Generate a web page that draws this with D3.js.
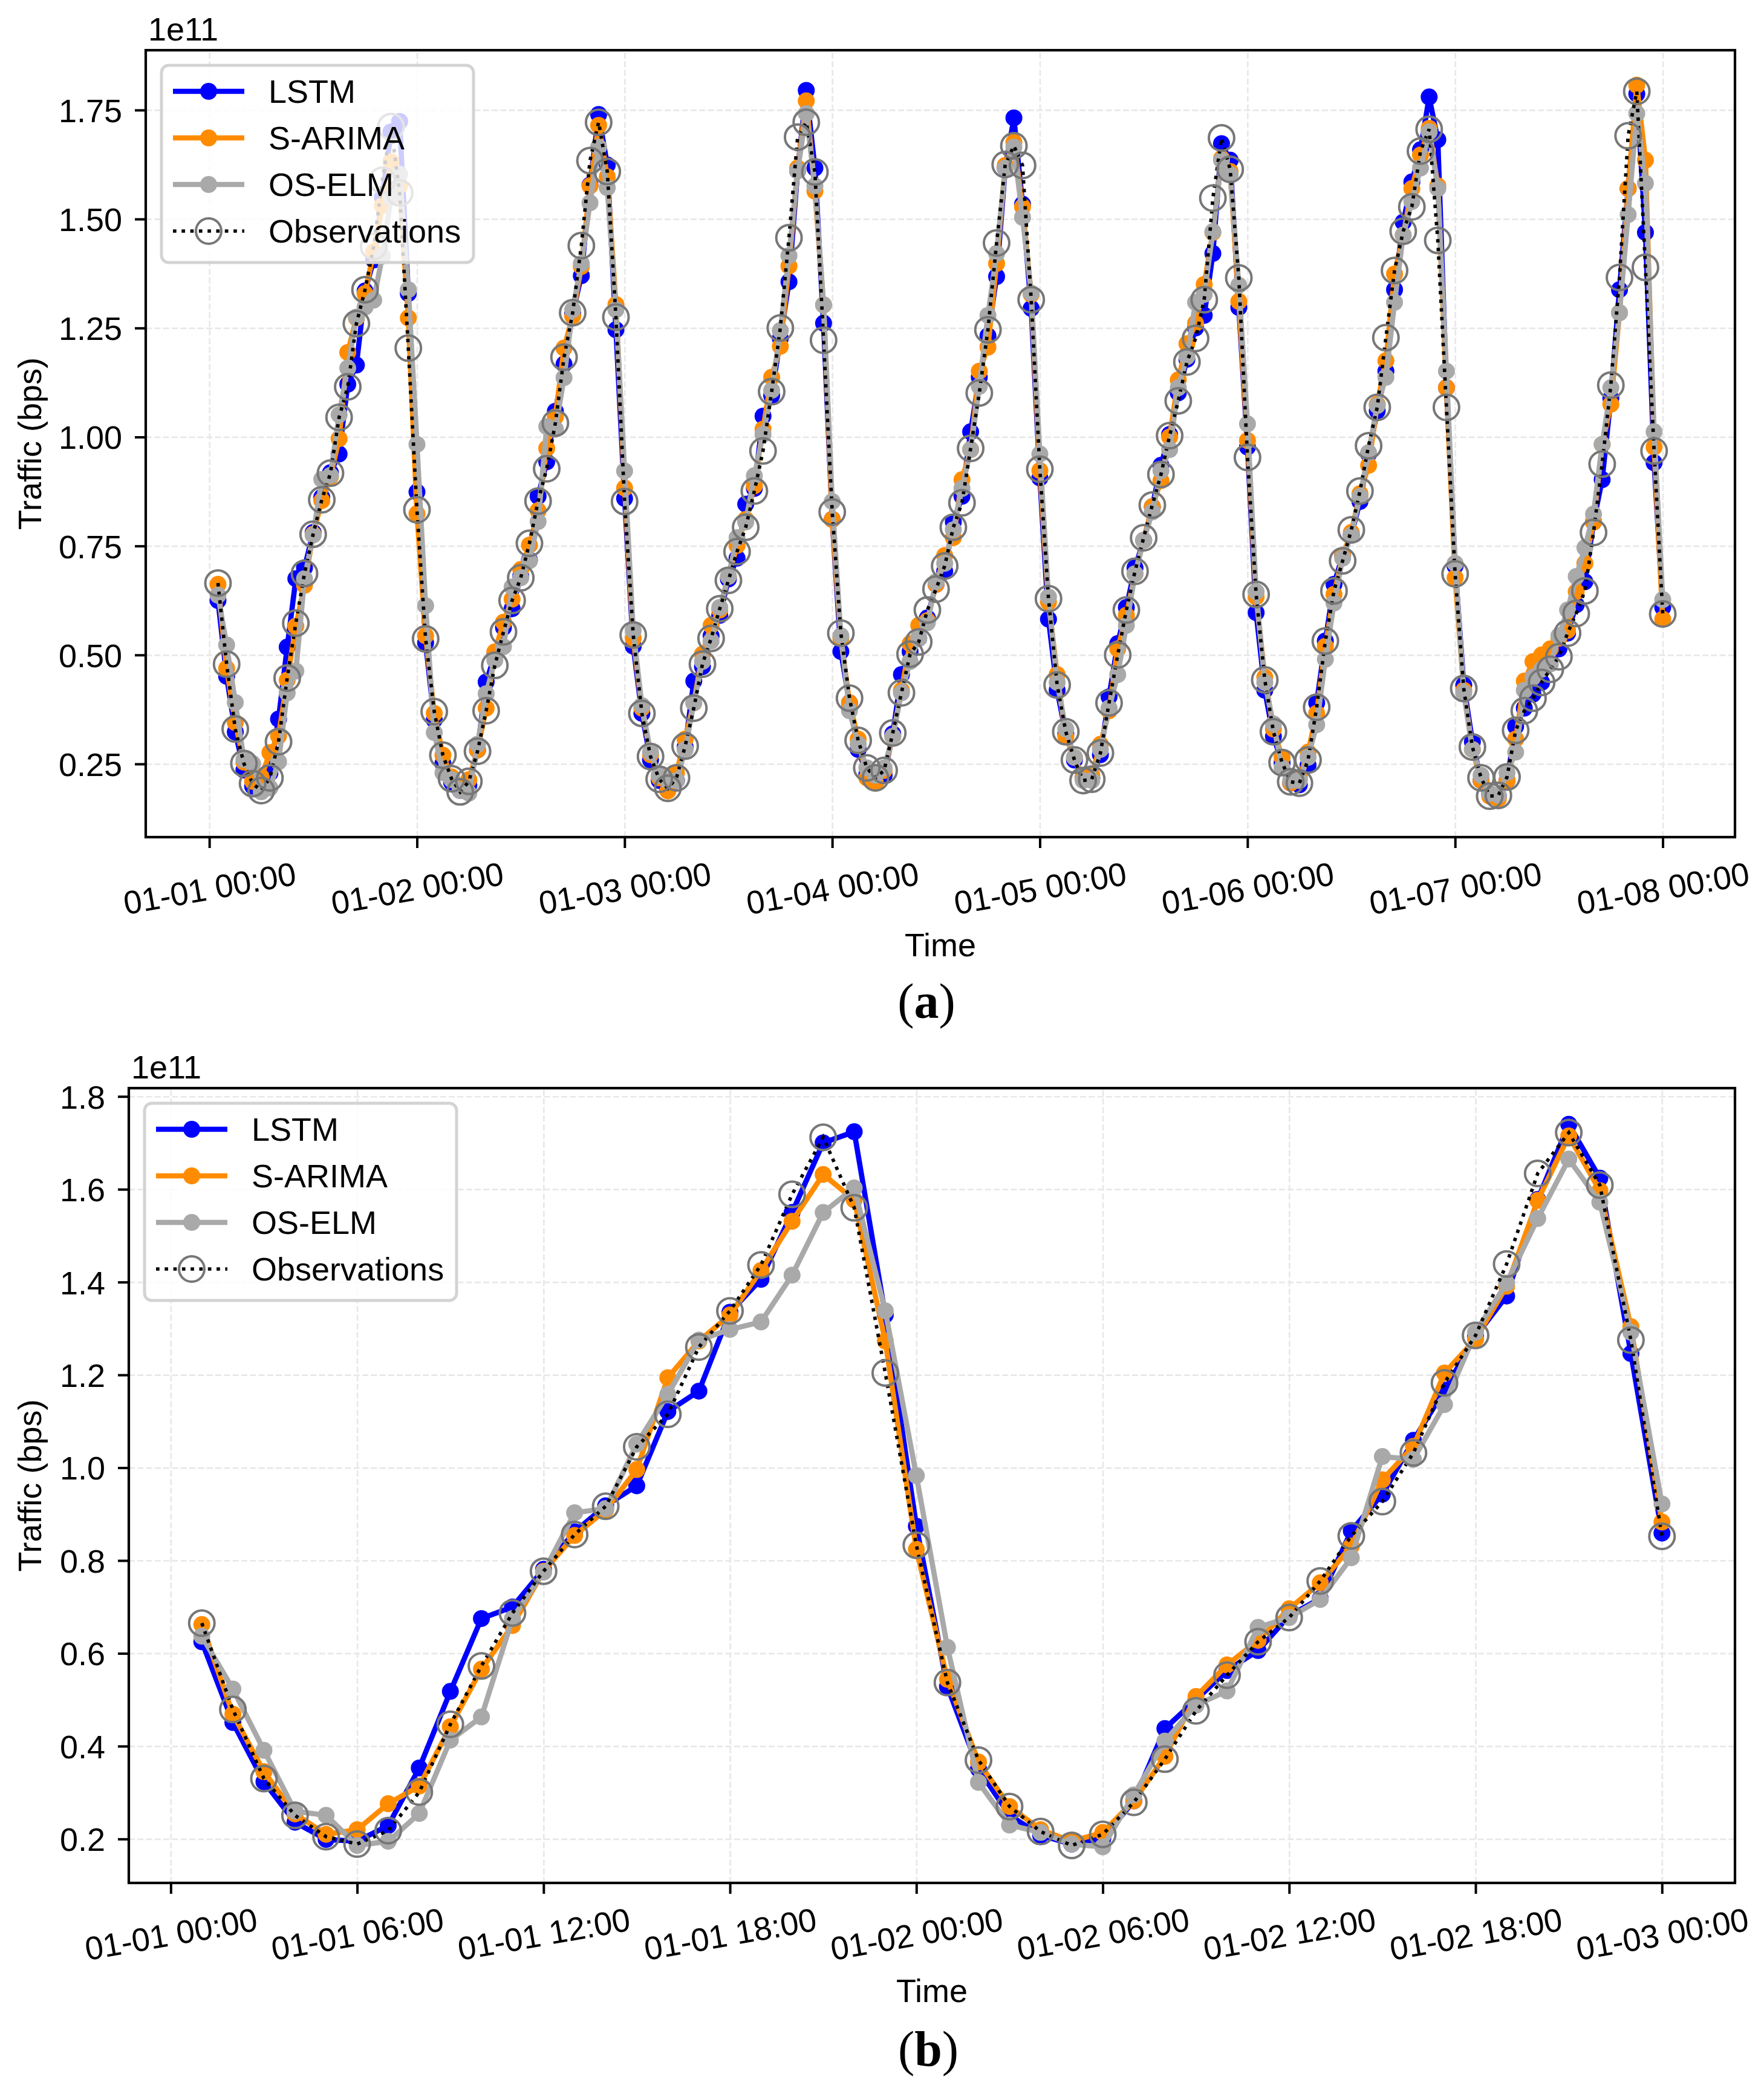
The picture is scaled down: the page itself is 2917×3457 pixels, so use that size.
<!DOCTYPE html>
<html><head><meta charset="utf-8">
<script src="https://cdn.jsdelivr.net/npm/d3@7"></script>
<style>body{margin:0;background:#fff}svg{display:block}</style>
</head><body><svg id="chart"></svg>
<script>
// ---------------- DATA (units of 1e11 bps), hourly from 01-01 01:00 to 01-08 00:00 ----------------
const hoursOfData = d3.range(1, 169);
const observations = [
0.665,0.479,0.330,0.251,0.205,0.189,0.218,0.301,0.447,0.573,0.687,0.777,0.856,0.917,1.045,1.115,1.260,1.338,1.437,1.589,1.712,1.560,1.204,0.833,
0.537,0.370,0.270,0.216,0.186,0.210,0.279,0.372,0.476,0.553,0.625,0.677,0.756,0.853,0.927,1.032,1.183,1.285,1.439,1.634,1.722,1.609,1.275,0.852,
0.546,0.366,0.267,0.215,0.194,0.218,0.291,0.378,0.479,0.538,0.606,0.671,0.737,0.793,0.876,0.968,1.104,1.250,1.457,1.688,1.722,1.608,1.222,0.828,
0.550,0.401,0.304,0.241,0.218,0.235,0.321,0.413,0.502,0.530,0.603,0.651,0.704,0.793,0.849,0.974,1.101,1.246,1.445,1.625,1.668,1.623,1.315,0.926,
0.629,0.431,0.324,0.259,0.212,0.215,0.275,0.390,0.500,0.603,0.692,0.769,0.844,0.914,1.003,1.083,1.172,1.226,1.315,1.548,1.686,1.614,1.365,0.953,
0.639,0.443,0.324,0.253,0.209,0.206,0.259,0.380,0.532,0.647,0.716,0.787,0.876,0.980,1.068,1.228,1.382,1.472,1.528,1.656,1.706,1.451,1.068,0.686,
0.423,0.289,0.218,0.176,0.178,0.220,0.327,0.372,0.401,0.437,0.467,0.496,0.550,0.595,0.647,0.781,0.938,1.119,1.366,1.691,1.793,1.389,0.968,0.594];
const lstm = [
0.625,0.451,0.323,0.236,0.199,0.195,0.229,0.353,0.518,0.675,0.700,0.781,0.862,0.918,0.961,1.121,1.165,1.335,1.406,1.550,1.700,1.724,1.329,0.874,
0.528,0.351,0.251,0.208,0.189,0.201,0.282,0.438,0.500,0.563,0.606,0.681,0.718,0.864,0.943,1.059,1.167,1.283,1.370,1.578,1.740,1.624,1.246,0.859,
0.520,0.366,0.259,0.212,0.190,0.212,0.289,0.440,0.473,0.544,0.591,0.674,0.722,0.846,0.882,1.048,1.095,1.226,1.356,1.611,1.795,1.617,1.261,0.811,
0.508,0.390,0.283,0.226,0.212,0.224,0.319,0.455,0.508,0.538,0.585,0.662,0.692,0.805,0.864,1.012,1.137,1.232,1.368,1.617,1.732,1.534,1.295,0.906,
0.582,0.419,0.319,0.259,0.218,0.218,0.271,0.404,0.526,0.609,0.700,0.763,0.840,0.935,1.006,1.101,1.178,1.250,1.279,1.421,1.673,1.635,1.297,0.977,
0.597,0.419,0.313,0.253,0.206,0.202,0.247,0.390,0.532,0.662,0.728,0.775,0.852,0.961,1.060,1.151,1.338,1.493,1.585,1.659,1.780,1.682,1.113,0.704,
0.431,0.301,0.212,0.182,0.176,0.212,0.336,0.378,0.410,0.437,0.502,0.514,0.550,0.615,0.668,0.805,0.902,1.089,1.338,1.570,1.787,1.469,0.941,0.609];
const sarima = [
0.662,0.469,0.345,0.254,0.210,0.220,0.276,0.314,0.442,0.566,0.660,0.777,0.854,0.909,0.996,1.194,1.273,1.329,1.425,1.531,1.632,1.577,1.273,0.824,
0.544,0.366,0.270,0.220,0.195,0.214,0.282,0.378,0.507,0.575,0.628,0.696,0.752,0.831,0.974,1.046,1.204,1.277,1.391,1.576,1.715,1.597,1.304,0.883,
0.538,0.378,0.271,0.218,0.188,0.230,0.307,0.390,0.502,0.568,0.603,0.680,0.751,0.811,0.888,1.018,1.137,1.208,1.392,1.617,1.771,1.564,1.303,0.811,
0.538,0.390,0.307,0.218,0.206,0.235,0.313,0.419,0.526,0.568,0.579,0.662,0.728,0.769,0.902,0.971,1.151,1.206,1.398,1.623,1.676,1.528,1.327,0.923,
0.621,0.455,0.313,0.265,0.218,0.224,0.295,0.372,0.514,0.591,0.686,0.763,0.840,0.900,1.000,1.131,1.214,1.261,1.350,1.469,1.639,1.609,1.311,0.992,
0.633,0.449,0.330,0.265,0.206,0.218,0.277,0.366,0.520,0.639,0.728,0.781,0.870,0.935,1.075,1.175,1.374,1.463,1.570,1.647,1.708,1.576,1.113,0.677,
0.419,0.283,0.212,0.176,0.170,0.212,0.307,0.440,0.485,0.500,0.514,0.538,0.556,0.645,0.710,0.805,0.983,1.075,1.285,1.570,1.807,1.635,0.977,0.582];
const oselm = [
0.637,0.523,0.391,0.260,0.251,0.186,0.195,0.255,0.413,0.463,0.675,0.775,0.903,0.912,1.051,1.158,1.275,1.298,1.314,1.415,1.550,1.603,1.338,0.983,
0.613,0.322,0.230,0.214,0.189,0.183,0.295,0.411,0.488,0.519,0.656,0.677,0.716,0.806,1.024,1.018,1.136,1.292,1.398,1.537,1.665,1.572,1.292,0.922,
0.556,0.384,0.277,0.224,0.212,0.212,0.283,0.390,0.485,0.532,0.609,0.680,0.769,0.805,0.911,1.006,1.107,1.244,1.416,1.611,1.742,1.576,1.303,0.852,
0.544,0.372,0.295,0.241,0.224,0.241,0.313,0.413,0.485,0.538,0.574,0.668,0.710,0.787,0.882,0.971,1.116,1.279,1.421,1.617,1.665,1.504,1.330,0.961,
0.633,0.437,0.330,0.265,0.212,0.212,0.283,0.378,0.455,0.568,0.686,0.763,0.828,0.923,0.971,1.113,1.184,1.309,1.327,1.471,1.635,1.602,1.348,1.030,
0.645,0.437,0.342,0.241,0.212,0.212,0.265,0.340,0.490,0.619,0.722,0.775,0.864,0.964,1.072,1.137,1.309,1.463,1.540,1.617,1.700,1.570,1.151,0.710,
0.413,0.283,0.224,0.182,0.178,0.230,0.277,0.419,0.449,0.467,0.479,0.544,0.603,0.680,0.746,0.823,0.983,1.113,1.285,1.510,1.742,1.582,1.012,0.627];

const seriesNames = ["LSTM", "S-ARIMA", "OS-ELM", "Observations"];
const xTickLabelsA = ["01-01 00:00","01-02 00:00","01-03 00:00","01-04 00:00","01-05 00:00","01-06 00:00","01-07 00:00","01-08 00:00"];
const xTickLabelsB = ["01-01 00:00","01-01 06:00","01-01 12:00","01-01 18:00","01-02 00:00","01-02 06:00","01-02 12:00","01-02 18:00","01-03 00:00"];
const yTicksA = [0.25, 0.50, 0.75, 1.00, 1.25, 1.50, 1.75];
const yTicksB = [0.2, 0.4, 0.6, 0.8, 1.0, 1.2, 1.4, 1.6, 1.8];
const pointsInPanelB = 48;

// ---------------- STYLE ----------------
const W = 2917, H = 3457;
const FONT = "'Liberation Sans', Arial, Helvetica, sans-serif";
const FS = 54;
const colors = ["#0000ff", "#ff8c00", "#a9a9a9"];
const LW = 8.7, MR = 14, OBS_R = 21;

const YEAR = 2021;
const t0 = Date.UTC(YEAR, 0, 1);
const toDate = h => new Date(t0 + h * 3600e3);
const parseTick = s => d3.utcParse("%Y-%m-%d %H:%M")(YEAR + "-" + s);
const fmtTick = d3.utcFormat("%m-%d %H:%M");

const svg = d3.select("#chart").attr("width", W).attr("height", H)
  .attr("viewBox", `0 0 ${W} ${H}`).style("font-family", FONT);
svg.append("rect").attr("width", W).attr("height", H).attr("fill", "#fff");

function panel(cfg) {
  const n = cfg.n;
  const x = d3.scaleUtc().domain([toDate(1 - 0.05 * (n - 1)), toDate(n + 0.05 * (n - 1))]).range([cfg.left, cfg.right]);
  const y = d3.scaleLinear().domain(cfg.yDomain).range([cfg.bottom, cfg.top]);
  const xTicks = cfg.xLabels.map(parseTick);
  const g = svg.append("g");

  // grid
  const gridX = g.append("g").attr("transform", `translate(0,${cfg.bottom})`)
    .call(d3.axisBottom(x).tickValues(xTicks).tickSize(-(cfg.bottom - cfg.top)).tickFormat(""));
  const gridY = g.append("g").attr("transform", `translate(${cfg.left},0)`)
    .call(d3.axisLeft(y).tickValues(cfg.yTicks).tickSize(-(cfg.right - cfg.left)).tickFormat(""));
  [gridX, gridY].forEach(gg => {
    gg.select(".domain").remove();
    gg.selectAll("line").attr("stroke", "#e8e8e8").attr("stroke-width", 2.7).attr("stroke-dasharray", "10,4.3");
  });

  const hrs = hoursOfData.slice(0, n);
  const line = d3.line().x((d, i) => x(toDate(hrs[i]))).y(d => y(d));
  const preds = [lstm, sarima, oselm];
  preds.forEach((arr, k) => {
    const vals = arr.slice(0, n);
    g.append("path").datum(vals).attr("d", line).attr("fill", "none")
      .attr("stroke", colors[k]).attr("stroke-width", LW).attr("stroke-linejoin", "round");
    g.append("g").selectAll("circle").data(vals).join("circle")
      .attr("cx", (d, i) => x(toDate(hrs[i]))).attr("cy", d => y(d)).attr("r", MR).attr("fill", colors[k]);
  });
  const obs = observations.slice(0, n);
  g.append("path").datum(obs).attr("d", line).attr("fill", "none")
    .attr("stroke", "#000").attr("stroke-width", 5.7).attr("stroke-dasharray", "5.7,8.6");
  g.append("g").selectAll("circle").data(obs).join("circle")
    .attr("cx", (d, i) => x(toDate(hrs[i]))).attr("cy", d => y(d)).attr("r", OBS_R)
    .attr("fill", "none").attr("stroke", "#777").attr("stroke-width", 4);

  // axes
  const ax = g.append("g").attr("transform", `translate(0,${cfg.bottom})`)
    .call(d3.axisBottom(x).tickValues(xTicks).tickFormat(fmtTick).tickSize(18).tickSizeOuter(0));
  ax.select(".domain").remove();
  ax.selectAll(".tick line").attr("stroke", "#000").attr("stroke-width", 4);
  ax.selectAll(".tick text").attr("y", 0).attr("dy", "0.36em")
    .attr("transform", "translate(0,84) rotate(-10)")
    .attr("font-size", FS).attr("font-family", FONT).attr("fill", "#000");

  const ay = g.append("g").attr("transform", `translate(${cfg.left},0)`)
    .call(d3.axisLeft(y).tickValues(cfg.yTicks).tickFormat(d3.format(cfg.yFmt)).tickSize(18).tickPadding(21).tickSizeOuter(0));
  ay.select(".domain").remove();
  ay.selectAll(".tick line").attr("stroke", "#000").attr("stroke-width", 4);
  ay.selectAll(".tick text").attr("dy", "0.36em").attr("font-size", FS).attr("font-family", FONT).attr("fill", "#000");

  // spines
  g.append("rect").attr("x", cfg.left).attr("y", cfg.top)
    .attr("width", cfg.right - cfg.left).attr("height", cfg.bottom - cfg.top)
    .attr("fill", "none").attr("stroke", "#000").attr("stroke-width", 4.2);

  // offset text
  g.append("text").attr("x", cfg.left + 4).attr("y", cfg.top - 16).attr("font-size", FS).text("1e11");
  // axis labels
  g.append("text").attr("x", (cfg.left + cfg.right) / 2).attr("y", cfg.bottom + 197)
    .attr("text-anchor", "middle").attr("font-size", FS).text("Time");
  g.append("text").attr("transform", `translate(68,${(cfg.top + cfg.bottom) / 2}) rotate(-90)`)
    .attr("text-anchor", "middle").attr("font-size", FS).text("Traffic (bps)");

  // legend
  const lx = cfg.left + 26, ly = cfg.top + 25;
  const lg = g.append("g");
  lg.append("rect").attr("x", lx).attr("y", ly).attr("width", 516).attr("height", 326).attr("rx", 12)
    .attr("fill", "#fff").attr("fill-opacity", 0.8).attr("stroke", "#d3d3d3").attr("stroke-width", 5);
  seriesNames.forEach((name, k) => {
    const ry = ly + 43 + k * 77;
    if (k < 3) {
      lg.append("line").attr("x1", lx + 19).attr("x2", lx + 137).attr("y1", ry).attr("y2", ry)
        .attr("stroke", colors[k]).attr("stroke-width", LW);
      lg.append("circle").attr("cx", lx + 78).attr("cy", ry).attr("r", MR).attr("fill", colors[k]);
    } else {
      lg.append("line").attr("x1", lx + 19).attr("x2", lx + 137).attr("y1", ry).attr("y2", ry)
        .attr("stroke", "#000").attr("stroke-width", 5.7).attr("stroke-dasharray", "5.7,8.6");
      lg.append("circle").attr("cx", lx + 78).attr("cy", ry).attr("r", OBS_R)
        .attr("fill", "none").attr("stroke", "#777").attr("stroke-width", 4);
    }
    lg.append("text").attr("x", lx + 177).attr("y", ry).attr("dy", "0.36em").attr("font-size", FS).text(name);
  });

  // subfigure caption
  const cap = svg.append("text").attr("x", cfg.capX).attr("y", cfg.capY).attr("text-anchor", "middle")
    .attr("font-family", "'Liberation Serif', 'DejaVu Serif', serif").attr("font-size", 82);
  cap.append("tspan").text("(");
  cap.append("tspan").attr("font-weight", "bold").text(cfg.letter);
  cap.append("tspan").text(")");
}

panel({ n: 168, left: 241, right: 2869, top: 83, bottom: 1384, yDomain: [0.0821, 1.8873],
  xLabels: xTickLabelsA, yTicks: yTicksA, yFmt: ".2f", letter: "a", capX: 1532, capY: 1683 });
panel({ n: pointsInPanelB, left: 213, right: 2869, top: 1799, bottom: 3113, yDomain: [0.1053, 1.8179],
  xLabels: xTickLabelsB, yTicks: yTicksB, yFmt: ".1f", letter: "b", capX: 1535, capY: 3415 });
</script></body></html>
